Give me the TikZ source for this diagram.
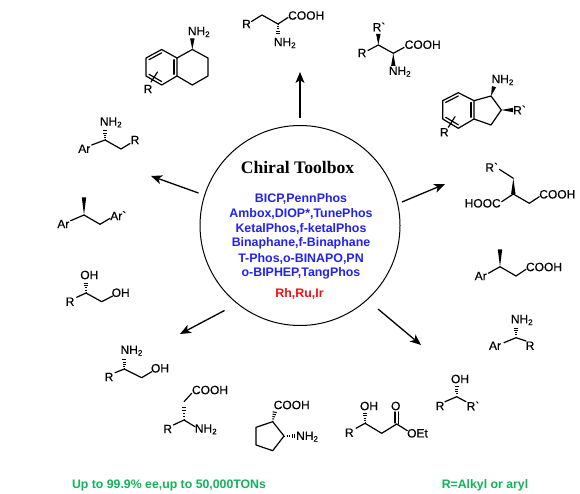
\documentclass[tikz,border=0pt]{standalone}
\usepackage{fontspec}
\newfontfamily\lab{Liberation Sans}
\newfontfamily\labc{Liberation Sans}[FakeBold=0.4]
\newfontfamily\ttl{Liberation Serif}
\usetikzlibrary{calc,arrows.meta}
\definecolor{ligblue}{HTML}{2222EE}
\definecolor{metred}{HTML}{F01010}
\definecolor{notegreen}{HTML}{12B45A}
\tikzset{
  x=1pt,y=-1pt,
  bond/.style={line width=1.2pt,line cap=round,line join=round},
  chem/.style={font=\labc\fontsize{12}{12}\selectfont,inner sep=0pt,text=black},
  ligand/.style={font=\lab\bfseries\fontsize{12.4}{12}\selectfont,inner sep=0pt,text=ligblue},
  note/.style={font=\lab\bfseries\fontsize{12.3}{12}\selectfont,inner sep=0pt,text=notegreen},
  toarrow/.style={line width=1.3pt,-{Stealth[length=11pt,width=9pt,inset=3pt]}},
}
% solid wedge: narrow end first
\newcommand{\wdg}[2]{\fill[black] (#1) -- ($(#2)!2.2pt!90:(#1)$) -- ($(#2)!2.2pt!-90:(#1)$) -- cycle;}
% hashed wedge: narrow end first
\newcommand{\hsh}[2]{\foreach \t/\w in {0.05/0.5,0.25/0.9,0.45/1.3,0.65/1.7,0.85/2.1,1.0/2.4}{
  \coordinate (hh) at ($(#1)!\t!(#2)$);
  \draw[line width=1pt] ($(hh)!\w pt!90:(#2)$) -- ($(hh)!\w pt!-90:(#2)$);}}
% inner line of an aromatic double bond
\newcommand{\inb}[3]{\draw[bond] ($(#1)!0.19!(#3)$) -- ($(#2)!0.19!(#3)$);}
\begin{document}
\begin{tikzpicture}
\useasboundingbox (0,0) rectangle (580,494);
\fill[white] (0,0) rectangle (580,494);

% hub
\node[draw,circle,line width=1pt,minimum size=200pt,inner sep=0pt] (hub) at (300,225.5) {};
\node[inner sep=0pt,font=\ttl\bfseries\fontsize{17.6}{18}\selectfont] (title) at (297.5,167) {Chiral Toolbox};
\node[ligand] (l1) at (301,199) {BICP,PennPhos};
\node[ligand] (l2) at (301,214) {Ambox,DIOP*,TunePhos};
\node[ligand] (l3) at (301,229) {KetalPhos,f-ketalPhos};
\node[ligand] (l4) at (301,243.5) {Binaphane,f-Binaphane};
\node[ligand] (l5) at (301,258.5) {T-Phos,o-BINAPO,PN};
\node[ligand] (l6) at (301,273.5) {o-BIPHEP,TangPhos};
\node[ligand,text=metred] (l7) at (299.5,293.5) {Rh,Ru,Ir};

% arrows
\coordinate (a1s) at (300,118); \coordinate (a1e) at (300,72);
\coordinate (a2s) at (402,202); \coordinate (a2e) at (445,184);
\coordinate (a3s) at (378,309); \coordinate (a3e) at (421,345);
\coordinate (a4s) at (224.5,310.5); \coordinate (a4e) at (180,334);
\coordinate (a5s) at (198.5,193); \coordinate (a5e) at (151,176);
\foreach \i in {1,...,5} {\draw[toarrow] (a\i s) -- (a\i e);}

% bottom notes
\node[note] (n1) at (169,485.5) {Up to 99.9\% ee,up to 50,000TONs};
\node[note] (n2) at (485,485) {R=Alkyl or aryl};

% tetralin amine
\node[chem] (tNH) at (199,32) {NH\textsubscript{2}};
\node[chem] (tR) at (148,89) {R};
\coordinate (t1) at (192.3,49.5); \coordinate (t2) at (208,58); \coordinate (t3) at (208,76);
\coordinate (t4) at (192.3,85); \coordinate (t4a) at (177,76); \coordinate (t8a) at (177,58);
\coordinate (t8) at (161.7,49.5); \coordinate (t7) at (146,58); \coordinate (t6) at (146,76); \coordinate (t5) at (161.7,85);
\coordinate (tc) at (161.7,67); \coordinate (tw) at (192.3,38.5);
\coordinate (tRa) at (151,82); \coordinate (tRb) at (157.5,72);
\draw[bond] (t8a) -- (t1) -- (t2) -- (t3) -- (t4) -- (t4a) -- (t8a) -- (t8) -- (t7) -- (t6) -- (t5) -- (t4a);
\inb{t8}{t7}{tc}\inb{t6}{t5}{tc}\inb{t8a}{t4a}{tc}
\wdg{t1}{tw}
\draw[bond] (tRa) -- (tRb);

% amino acid, top
\node[chem] (aR) at (246.5,24) {R};
\node[chem,anchor=west] (aC) at (288,15.5) {COOH};
\node[chem] (aN) at (285,43) {NH\textsubscript{2}};
\coordinate (a1) at (251.5,21.5); \coordinate (a2) at (262,15); \coordinate (a3) at (278,24); \coordinate (a4) at (288,17.5); \coordinate (a5) at (278,35);
\draw[bond] (a1) -- (a2) -- (a3) -- (a4);
\hsh{a3}{a5}

% beta-substituted amino acid
\node[chem] (bR) at (362,53) {R};
\node[chem] (bRp) at (379,27) {R`};
\node[chem] (bC) at (422.7,44.7) {COOH};
\node[chem] (bN) at (400,71.7) {NH\textsubscript{2}};
\coordinate (b1) at (368,50.5); \coordinate (b2) at (378.3,45); \coordinate (b3) at (393.3,53.3); \coordinate (b4) at (404,47.5);
\coordinate (b5) at (378.3,34); \coordinate (b6) at (393.3,66);
\draw[bond] (b1) -- (b2) -- (b3) -- (b4);
\wdg{b2}{b5}\wdg{b3}{b6}

% aminoindane
\node[chem] (iN) at (502.7,80) {NH\textsubscript{2}};
\node[chem] (iRp) at (519.5,110) {R`};
\node[chem] (iR) at (444.3,132.3) {R};
\coordinate (i1) at (458.3,92.7); \coordinate (i2) at (442.7,100.7); \coordinate (i3) at (442.7,119); \coordinate (i4) at (458.3,128.3);
\coordinate (i5) at (474,119); \coordinate (i6) at (474,100.7); \coordinate (i7) at (491,96); \coordinate (i8) at (501.3,110); \coordinate (i9) at (491,125);
\coordinate (ic) at (458.3,110); \coordinate (iw1) at (494,86.7); \coordinate (iw2) at (513,110);
\coordinate (iRa) at (448.3,127.3); \coordinate (iRb) at (455,116.7);
\draw[bond] (i6) -- (i7) -- (i8) -- (i9) -- (i5) -- (i6) -- (i1) -- (i2) -- (i3) -- (i4) -- (i5);
\inb{i1}{i2}{ic}\inb{i3}{i4}{ic}\inb{i5}{i6}{ic}
\wdg{i7}{iw1}\wdg{i8}{iw2}
\draw[bond] (iRa) -- (iRb);

% succinic acid
\node[chem] (sRp) at (491.7,167.3) {R`};
\node[chem] (sH) at (482.7,203.3) {HOOC};
\node[chem] (sC) at (557.3,194.3) {COOH};
\coordinate (s1) at (499.3,169.3); \coordinate (s2) at (513.3,178.3); \coordinate (s3) at (513.3,194);
\coordinate (s4) at (501.7,201.7); \coordinate (s5) at (529.3,203.3); \coordinate (s6) at (539.3,196.7);
\draw[bond] (s1) -- (s2); \draw[bond] (s4) -- (s3) -- (s5) -- (s6);
\wdg{s2}{s3}

% aryl butanoic acid
\node[chem] (pA) at (480.7,276) {Ar};
\node[chem] (pC) at (544,267) {COOH};
\coordinate (p1) at (488.3,273.3); \coordinate (p2) at (500,266.7); \coordinate (p3) at (516,276); \coordinate (p4) at (526,269.3); \coordinate (p5) at (500,249.3);
\draw[bond] (p1) -- (p2) -- (p3) -- (p4);
\wdg{p2}{p5}

% benzylic amine
\node[chem] (qN) at (522,320) {NH\textsubscript{2}};
\node[chem] (qA) at (495,345.7) {Ar};
\node[chem] (qR) at (530,345.7) {R};
\coordinate (q1) at (504,342.7); \coordinate (q2) at (516,337.7); \coordinate (q3) at (526,341); \coordinate (q4) at (516,326.7);
\draw[bond] (q1) -- (q2) -- (q3);
\hsh{q2}{q4}

% homobenzylic amine
\node[chem] (uN) at (111,122.3) {NH\textsubscript{2}};
\node[chem] (uA) at (84.3,148.7) {Ar};
\node[chem] (uR) at (135,140) {R};
\coordinate (u1) at (91.7,145); \coordinate (u2) at (105,140); \coordinate (u3) at (121,149); \coordinate (u4) at (130,143.5); \coordinate (u5) at (105,129.3);
\draw[bond] (u1) -- (u2) -- (u3) -- (u4);
\hsh{u2}{u5}

% diaryl propane
\node[chem] (vA) at (63.3,224) {Ar};
\node[chem] (vB) at (118.3,215.7) {Ar`};
\coordinate (v1) at (70.7,220.7); \coordinate (v2) at (84,215); \coordinate (v3) at (100,224.3); \coordinate (v4) at (110,218.3); \coordinate (v5) at (84,197.3);
\draw[bond] (v1) -- (v2) -- (v3) -- (v4);
\wdg{v2}{v5}

% diol
\node[chem] (dO) at (89.3,275) {OH};
\node[chem] (dR) at (70,301.7) {R};
\node[chem] (dP) at (120.7,292.7) {OH};
\coordinate (d1) at (76.7,297.3); \coordinate (d2) at (86,293); \coordinate (d3) at (101.7,301.7); \coordinate (d4) at (112.7,296); \coordinate (d5) at (86,281.7);
\draw[bond] (d1) -- (d2) -- (d3) -- (d4);
\hsh{d2}{d5}

% amino alcohol
\node[chem] (eN) at (131.7,350.7) {NH\textsubscript{2}};
\node[chem] (eR) at (109,377) {R};
\node[chem] (eO) at (160,368.3) {OH};
\coordinate (e1) at (115,372.7); \coordinate (e2) at (124.3,369); \coordinate (e3) at (141.7,377.7); \coordinate (e4) at (151.7,371.7); \coordinate (e5) at (124.3,358.3);
\draw[bond] (e1) -- (e2) -- (e3) -- (e4);
\hsh{e2}{e5}

% beta amino acid
\node[chem] (fC) at (210,390) {COOH};
\node[chem] (fR) at (167.7,429) {R};
\node[chem] (fN) at (206,429.3) {NH\textsubscript{2}};
\coordinate (f1) at (191.7,393.3); \coordinate (f2) at (184,401.7); \coordinate (f3) at (184,420); \coordinate (f4) at (173.3,425); \coordinate (f5) at (195,426.7); \coordinate (f6) at (184,405);
\draw[bond] (f1) -- (f2); \draw[bond] (f4) -- (f3) -- (f5);
\hsh{f3}{f6}

% cyclopentane amino acid
\node[chem] (cC) at (291.7,405) {COOH};
\node[chem] (cN) at (307.3,436.7) {NH\textsubscript{2}};
\coordinate (c1) at (272.7,421.7); \coordinate (c2) at (284,436); \coordinate (c3) at (272.7,450.7); \coordinate (c4) at (256,445); \coordinate (c5) at (256,427.3);
\coordinate (c6) at (275,410.5); \coordinate (c7) at (296.5,436);
\draw[bond] (c1) -- (c2) -- (c3) -- (c4) -- (c5) -- cycle;
\hsh{c1}{c6}\hsh{c2}{c7}

% beta hydroxy ester
\node[chem] (gO) at (369,406) {OH};
\node[chem] (gR) at (349.3,432.7) {R};
\node[chem] (gD) at (395.7,406) {O};
\node[chem] (gE) at (417.5,433.3) {OEt};
\coordinate (g1) at (356,428.3); \coordinate (g2) at (365,423.3); \coordinate (g3) at (381.7,433.3); \coordinate (g4) at (396.7,424); \coordinate (g5) at (407.3,430.7); \coordinate (g6) at (365,411.7);
\coordinate (g7) at (395,412); \coordinate (g8) at (395,423); \coordinate (g9) at (398.2,412); \coordinate (g10) at (398.2,424);
\draw[bond] (g1) -- (g2) -- (g3) -- (g4) -- (g5);
\draw[bond] (g7) -- (g8); \draw[bond] (g9) -- (g10);
\hsh{g2}{g6}

% secondary alcohol
\node[chem] (hO) at (460,379) {OH};
\node[chem] (hR) at (440,406) {R};
\node[chem] (hP) at (473,406) {R`};
\coordinate (h1) at (445,401.7); \coordinate (h2) at (456.7,396.7); \coordinate (h3) at (466,401.7); \coordinate (h4) at (456.7,385);
\draw[bond] (h1) -- (h2) -- (h3);
\hsh{h2}{h4}
\end{tikzpicture}
\end{document}
